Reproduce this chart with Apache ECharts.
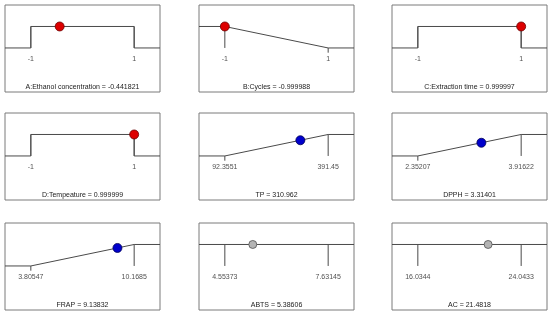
<!DOCTYPE html>
<html>
<head>
<meta charset="utf-8">
<script src="https://cdn.jsdelivr.net/npm/echarts@6/dist/echarts.min.js"></script>
<style>html,body{margin:0;padding:0;background:#fff}#c{width:550px;height:315px}</style>
</head>
<body>
<div id="c"></div>
<script>
// Panel names and current (optimum) values
var names = ['A:Ethanol concentration', 'B:Cycles', 'C:Extraction time', 'D:Tempeature', 'TP', 'DPPH', 'FRAP', 'ABTS', 'AC'];
var valueText = ['-0.441821', '-0.999988', '0.999997', '0.999999', '310.962', '3.31401', '9.13832', '5.38606', '21.4818'];
// Low / high limits (tick labels)
var lowLabels = ['-1', '-1', '-1', '-1', '92.3551', '2.35207', '3.80547', '4.55373', '16.0344'];
var highLabels = ['1', '1', '1', '1', '391.45', '3.91622', '10.1685', '7.63145', '24.0433'];
// Goal type for each desirability profile
var profileType = ['range', 'min', 'range', 'range', 'max', 'max', 'max', 'none', 'none'];
// Desirability of the current point
var pointDesir = [1, 1, 1, 1, 0.7309, 0.615, 0.838, 1, 1];
var pointKind = ['red', 'red', 'red', 'red', 'blue', 'blue', 'blue', 'grey', 'grey'];

var gridLefts = [5, 199, 392];
var gridTops = [5, 113, 223];
var gw = 155, gh = 87;

var grids = [], xAxes = [], yAxes = [], series = [], titles = [];
var lineCol = '#4a4a4a';
var txtCol = '#222';
var dotStyles = {
  red: {color: '#dd0000', borderColor: '#6a0000', size: 9},
  blue: {color: '#0000cc', borderColor: '#000055', size: 9},
  grey: {color: '#b4b4b4', borderColor: '#505050', size: 8}
};
function labelFmt(p) { return p.data.name; }
for (var i = 0; i < 9; i++) {
  var lo = parseFloat(lowLabels[i]), hi = parseFloat(highLabels[i]);
  var r = hi - lo;
  var xmin = lo - 0.25 * r, xmax = hi + 0.25 * r;
  var gLeft = gridLefts[i % 3], gTop = gridTops[Math.floor(i / 3)];
  grids.push({left: gLeft, top: gTop, width: gw, height: gh, show: true, borderColor: '#7a7a7a', borderWidth: 1});
  xAxes.push({type: 'value', gridIndex: i, min: xmin, max: xmax, show: false});
  yAxes.push({type: 'value', gridIndex: i, min: -2.05, max: 2, show: false});

  var prof, ticks;
  var t = profileType[i];
  if (t === 'range') {
    prof = [[xmin, 0], [lo, 0], [lo, 1], [hi, 1], [hi, 0], [xmax, 0]];
    ticks = [[[lo, 1], [lo, 0]], [[hi, 1], [hi, 0]]];
  } else if (t === 'min') {
    prof = [[xmin, 1], [lo, 1], [hi, 0], [xmax, 0]];
    ticks = [[[lo, 1], [lo, 0]], [[hi, 0], [hi, -0.22]]];
  } else if (t === 'max') {
    prof = [[xmin, 0], [lo, 0], [hi, 1], [xmax, 1]];
    ticks = [[[lo, 0], [lo, -0.22]], [[hi, 1], [hi, 0]]];
  } else {
    prof = [[xmin, 1], [xmax, 1]];
    ticks = [[[lo, 1], [lo, 0]], [[hi, 1], [hi, 0]]];
  }
  series.push({type: 'line', xAxisIndex: i, yAxisIndex: i, data: prof, showSymbol: false, symbol: 'none',
    lineStyle: {color: lineCol, width: 1}, silent: true, z: 2});
  for (var k = 0; k < ticks.length; k++) {
    series.push({type: 'line', xAxisIndex: i, yAxisIndex: i, data: ticks[k], showSymbol: false, symbol: 'none',
      lineStyle: {color: lineCol, width: 1}, silent: true, z: 2});
  }
  series.push({type: 'scatter', xAxisIndex: i, yAxisIndex: i, symbolSize: 1, silent: true,
    itemStyle: {color: 'rgba(0,0,0,0)'},
    data: [{name: lowLabels[i], value: [lo, -0.5]}, {name: highLabels[i], value: [hi, -0.5]}],
    label: {show: true, position: 'inside', color: txtCol, fontSize: 7, fontFamily: 'Liberation Sans', formatter: labelFmt}});
  var ds = dotStyles[pointKind[i]];
  series.push({type: 'scatter', xAxisIndex: i, yAxisIndex: i, symbol: 'circle', symbolSize: ds.size, silent: true,
    data: [[parseFloat(valueText[i]), pointDesir[i]]],
    itemStyle: {color: ds.color, borderColor: ds.borderColor, borderWidth: 0.8, opacity: 1}, z: 5});
  titles.push({text: names[i] + ' = ' + valueText[i], left: gLeft + gw / 2, top: gTop + 79, textAlign: 'center', padding: 0,
    textStyle: {fontSize: 7, fontWeight: 'normal', color: txtCol, fontFamily: 'Liberation Sans'}});
}

var chart = echarts.init(document.getElementById('c'), null, {renderer: 'canvas'});
chart.setOption({animation: false, title: titles, grid: grids, xAxis: xAxes, yAxis: yAxes, series: series});
</script>
</body>
</html>
